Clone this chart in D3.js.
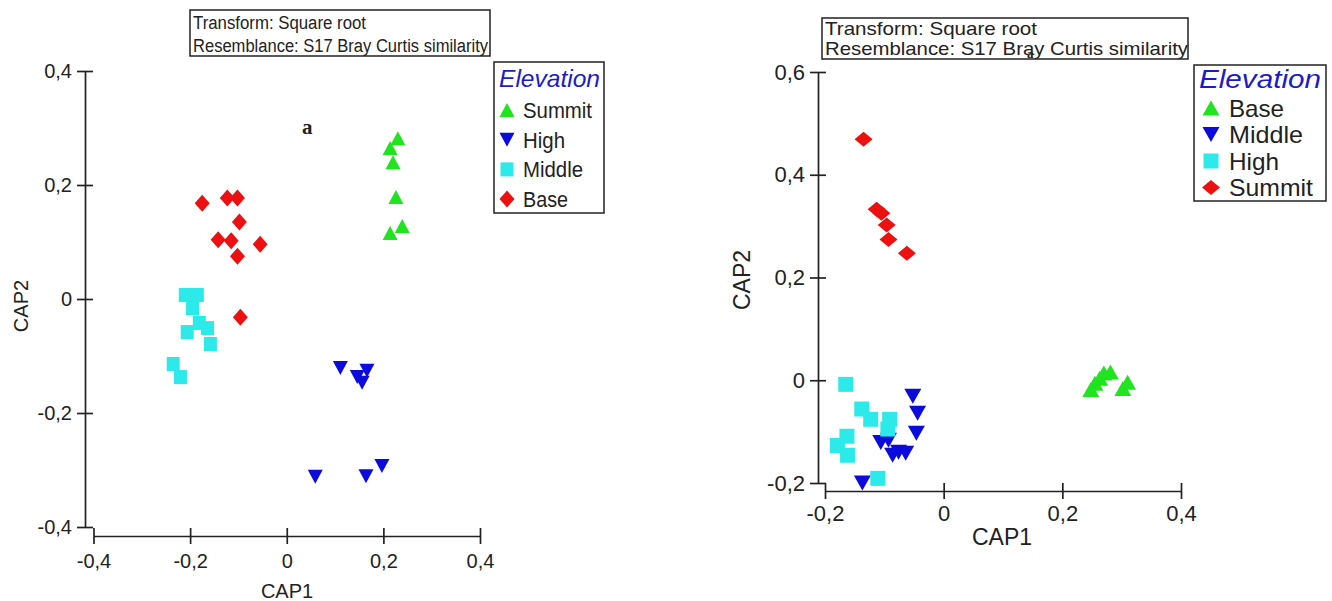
<!DOCTYPE html>
<html>
<head>
<meta charset="utf-8">
<script src="https://cdn.jsdelivr.net/npm/d3@7"></script>
<style>
  body { margin: 0; background: #fff; }
  svg { display: block; }
  text { font-family: "Liberation Sans", Arial, sans-serif; fill: #222; }
</style>
</head>
<body>
<svg id="chart" width="1332" height="601"></svg>
<script>
// ---- data ----
// panel a
const aTicksX = [-0.4, -0.2, 0, 0.2, 0.4];
const aTicksY = [-0.4, -0.2, 0, 0.2, 0.4];
const aLegend = ["Summit", "High", "Middle", "Base"];
const aSummit = [[0.230, 0.282], [0.214, 0.265], [0.220, 0.240], [0.226, 0.179], [0.239, 0.128], [0.214, 0.116]];
const aHigh = [[0.111, -0.121], [0.166, -0.126], [0.146, -0.137], [0.156, -0.147], [0.059, -0.312], [0.164, -0.311], [0.197, -0.293]];
const aMiddle = [[-0.210, 0.007], [-0.185, 0.007], [-0.195, -0.016], [-0.181, -0.042], [-0.206, -0.058], [-0.164, -0.051], [-0.158, -0.079], [-0.235, -0.114], [-0.220, -0.137]];
const aBase = [[-0.175, 0.168], [-0.123, 0.177], [-0.102, 0.177], [-0.098, 0.135], [-0.142, 0.104], [-0.115, 0.102], [-0.055, 0.096], [-0.102, 0.075], [-0.096, -0.032]];

// panel b
const bTicksX = [-0.2, 0, 0.2, 0.4];
const bTicksY = [-0.2, 0, 0.2, 0.4, 0.6];
const bLegend = ["Base", "Middle", "High", "Summit"];
const bBase = [[0.248, -0.018], [0.255, -0.006], [0.263, 0.004], [0.270, 0.014], [0.281, 0.016], [0.302, -0.016], [0.310, -0.004]];
const bMiddle = [[-0.052, -0.031], [-0.044, -0.064], [-0.046, -0.103], [-0.106, -0.121], [-0.093, -0.117], [-0.086, -0.146], [-0.076, -0.140], [-0.064, -0.142], [-0.137, -0.200]];
const bHigh = [[-0.165, -0.008], [-0.138, -0.056], [-0.123, -0.076], [-0.091, -0.076], [-0.094, -0.095], [-0.163, -0.109], [-0.179, -0.127], [-0.162, -0.146], [-0.111, -0.191]];
const bSummit = [[-0.135, 0.469], [-0.113, 0.333], [-0.105, 0.325], [-0.096, 0.302], [-0.093, 0.274], [-0.062, 0.247]];

const noteLines = ["Transform: Square root", "Resemblance: S17 Bray Curtis similarity"];

// ---- marker shapes ----
const GREEN = "#1fe41f", BLUE = "#0b0bdc", CYAN = "#2deaea", RED = "#ec1010";
const shapes = {
  up: (w, h) => `M0,${-h / 2}L${w / 2},${h / 2}L${-w / 2},${h / 2}Z`,
  down: (w, h) => `M0,${h / 2}L${w / 2},${-h / 2}L${-w / 2},${-h / 2}Z`,
  square: (w, h) => `M${-w / 2},${-h / 2}h${w}v${h}h${-w}Z`,
  diamond: (w, h) => `M0,${-h / 2}L${w / 2},0L0,${h / 2}L${-w / 2},0Z`
};

const locale = d3.formatLocale({ decimal: ",", thousands: ".", grouping: [3], currency: ["", ""], minus: "-" });
const f1 = locale.format(".1f");
const tickFmt = d => Math.abs(d) < 1e-9 ? "0" : f1(d);

const svg = d3.select("#chart");

function panel(cfg) {
  const g = svg.append("g");
  const x = d3.scaleLinear().domain(cfg.xDomain).range(cfg.xRange);
  const y = d3.scaleLinear().domain(cfg.yDomain).range(cfg.yRange);

  // y axis, crossing ticks
  const ya = g.append("g")
    .attr("transform", `translate(${cfg.yAxisX},0)`)
    .call(d3.axisLeft(y).tickValues(cfg.ticksY).tickFormat(tickFmt)
      .tickSize(8).tickSizeOuter(0).tickPadding(5));
  ya.selectAll(".tick line").attr("x1", 8);
  // x axis
  const xa = g.append("g")
    .attr("transform", `translate(0,${cfg.xAxisY})`)
    .call(d3.axisBottom(x).tickValues(cfg.ticksX).tickFormat(tickFmt)
      .tickSize(8).tickSizeOuter(0).tickPadding(cfg.xPad));
  xa.selectAll(".tick line").attr("y1", -8);
  [ya, xa].forEach(a => {
    a.select(".domain").attr("stroke", "#222").attr("stroke-width", 1.7);
    a.selectAll(".tick line").attr("stroke", "#222").attr("stroke-width", 1.7);
    a.selectAll("text").style("font-size", cfg.tickFont + "px")
      .style("font-family", '"Liberation Sans", Arial, sans-serif').attr("fill", "#222");
  });

  // axis titles
  g.append("text").attr("x", cfg.cap1[0]).attr("y", cfg.cap1[1])
    .attr("text-anchor", "middle").style("font-size", cfg.titleFont + "px").text("CAP1");
  g.append("text").attr("transform", `translate(${cfg.cap2[0]},${cfg.cap2[1]}) rotate(-90)`)
    .attr("text-anchor", "middle").style("font-size", cfg.titleFont + "px").text("CAP2");

  // points
  cfg.series.forEach(s => {
    g.append("g").selectAll("path").data(s.data).join("path")
      .attr("transform", d => `translate(${x(d[0])},${y(d[1])})`)
      .attr("d", shapes[s.shape](s.w, s.h))
      .attr("fill", s.color);
  });

  // note box
  const nb = cfg.note;
  g.append("rect").attr("x", nb.x).attr("y", nb.y).attr("width", nb.w).attr("height", nb.h)
    .attr("fill", "#fff").attr("stroke", "#222").attr("stroke-width", 1.5);
  noteLines.forEach((t, i) => {
    g.append("text").attr("x", nb.x + 3).attr("y", nb.base[i])
      .style("font-size", nb.font + "px")
      .attr("textLength", nb.len[i]).attr("lengthAdjust", "spacingAndGlyphs")
      .text(t);
  });

  // legend
  const lg = cfg.legend;
  g.append("rect").attr("x", lg.x).attr("y", lg.y).attr("width", lg.w).attr("height", lg.h)
    .attr("fill", "#fff").attr("stroke", "#222").attr("stroke-width", 1.5);
  g.append("text").attr("x", lg.x + 5).attr("y", lg.titleY)
    .style("font-size", lg.titleFont + "px").style("font-style", "italic")
    .style("fill", "#1c1cc4")
    .attr("textLength", lg.titleLen).attr("lengthAdjust", "spacingAndGlyphs")
    .text("Elevation");
  cfg.labels.forEach((name, i) => {
    const s = cfg.series.find(d => d.name === name);
    const cy = lg.firstY + i * lg.step;
    g.append("path").attr("transform", `translate(${lg.markX},${cy})`)
      .attr("d", shapes[s.shape](s.w, s.h)).attr("fill", s.color);
    g.append("text").attr("x", lg.textX).attr("y", cy + lg.font * 0.36)
      .style("font-size", lg.font + "px")
      .attr("textLength", lg.lens[i]).attr("lengthAdjust", "spacingAndGlyphs")
      .text(name);
  });
}

panel({
  xDomain: [-0.4, 0.4], xRange: [93.5, 480],
  yDomain: [-0.4, 0.4], yRange: [527, 71],
  ticksX: aTicksX, ticksY: aTicksY,
  yAxisX: 85, xAxisY: 536, xPad: 10, tickFont: 20, titleFont: 20,
  cap1: [287, 598], cap2: [28, 306],
  labels: aLegend,
  series: [
    { name: "Summit", data: aSummit, shape: "up", w: 15, h: 14, color: GREEN },
    { name: "High", data: aHigh, shape: "down", w: 15, h: 14, color: BLUE },
    { name: "Middle", data: aMiddle, shape: "square", w: 13, h: 14, color: CYAN },
    { name: "Base", data: aBase, shape: "diamond", w: 15, h: 17, color: RED }
  ],
  note: { x: 190, y: 10, w: 300, h: 46, font: 18, base: [29, 52], len: [173, 295] },
  legend: { x: 494, y: 62, w: 110, h: 151, titleY: 87, titleFont: 24, titleLen: 101,
            markX: 507, textX: 523, firstY: 110, step: 29.7, font: 22,
            lens: [69, 42, 60, 45] }
});

panel({
  xDomain: [-0.2, 0.4], xRange: [825, 1181],
  yDomain: [-0.2, 0.6], yRange: [483, 72],
  ticksX: bTicksX, ticksY: bTicksY,
  yAxisX: 818, xAxisY: 491, xPad: 6, tickFont: 22, titleFont: 23,
  cap1: [1002, 545], cap2: [750, 280],
  labels: bLegend,
  series: [
    { name: "Base", data: bBase, shape: "up", w: 17, h: 15, color: GREEN },
    { name: "Middle", data: bMiddle, shape: "down", w: 17, h: 15, color: BLUE },
    { name: "High", data: bHigh, shape: "square", w: 15, h: 15, color: CYAN },
    { name: "Summit", data: bSummit, shape: "diamond", w: 18, h: 15, color: RED }
  ],
  note: { x: 822, y: 18, w: 366, h: 41, font: 19, base: [35, 55], len: [212, 363] },
  legend: { x: 1194, y: 65, w: 132, h: 136, titleY: 88, titleFont: 26, titleLen: 122,
            markX: 1211, textX: 1229, firstY: 108, step: 26.5, font: 24,
            lens: [55, 74, 50, 84] }
});

// stray glyphs from the source figure
svg.append("text").attr("x", 302).attr("y", 134)
  .style("font-family", '"Liberation Serif", "DejaVu Serif", serif')
  .style("font-weight", "bold").style("font-size", "21px").text("a");
svg.append("text").attr("x", 1027).attr("y", 58)
  .style("font-family", '"Liberation Serif", "DejaVu Serif", serif')
  .style("font-weight", "bold").style("font-size", "13px").text("a");
</script>
</body>
</html>
